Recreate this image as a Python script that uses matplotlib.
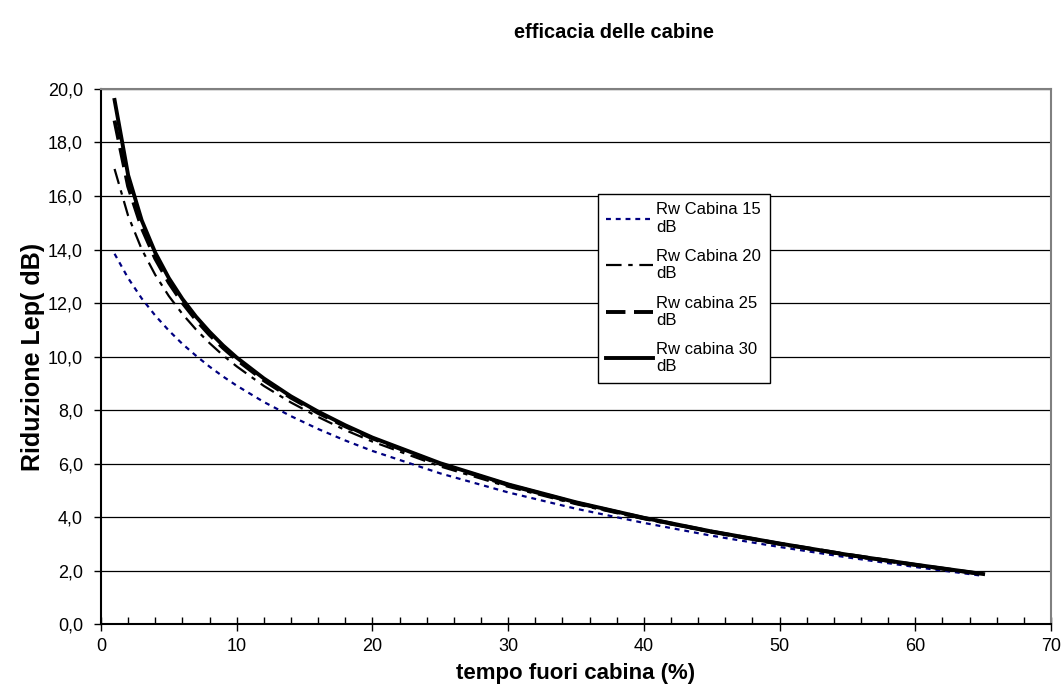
import matplotlib
matplotlib.use("Agg")
import matplotlib.pyplot as plt
from matplotlib.ticker import MultipleLocator, FuncFormatter

plt.rcParams['font.family'] = ['Liberation Sans', 'DejaVu Sans']

tempo = [1, 2, 3, 4, 5, 6, 7, 8, 9, 10, 12, 14, 16, 18, 20, 25, 30, 35, 40, 45, 50, 55, 60, 65]
rw15 = [13.84, 12.93, 12.17, 11.53, 10.97, 10.47, 10.03, 9.62, 9.25, 8.91, 8.30, 7.77, 7.29, 6.86,
        6.47, 5.63, 4.92, 4.31, 3.78, 3.30, 2.88, 2.49, 2.13, 1.80]
rw20 = [17.01, 15.26, 14.01, 13.05, 12.26, 11.59, 11.01, 10.50, 10.04, 9.63, 8.90, 8.28, 7.74, 7.25,
        6.82, 5.89, 5.13, 4.48, 3.92, 3.42, 2.97, 2.56, 2.19, 1.85]
rw25 = [18.82, 16.36, 14.81, 13.66, 12.76, 12.01, 11.37, 10.81, 10.32, 9.88, 9.11, 8.46, 7.89, 7.39,
        6.94, 5.98, 5.20, 4.53, 3.96, 3.45, 3.00, 2.59, 2.21, 1.86]
rw30 = [19.59, 16.78, 15.09, 13.88, 12.93, 12.15, 11.49, 10.92, 10.41, 9.96, 9.18, 8.51, 7.94, 7.43,
        6.97, 6.01, 5.22, 4.55, 3.97, 3.46, 3.01, 2.59, 2.22, 1.87]
labels = ["Rw Cabina 15\ndB", "Rw Cabina 20\ndB", "Rw cabina 25\ndB", "Rw cabina 30\ndB"]

fig = plt.figure(figsize=(10.63, 6.98), dpi=100)
ax = fig.add_axes([0.0950, 0.106, 0.8937, 0.7665])

ax.plot(tempo, rw15, color='#000080', linewidth=1.6, linestyle=(0, (2.2, 2.2)), label=labels[0])
ax.plot(tempo, rw20, color='black', linewidth=1.6, linestyle=(0, (7, 3, 2, 3)), label=labels[1])
ax.plot(tempo, rw25, color='black', linewidth=2.8, linestyle=(0, (5, 2.2)), label=labels[2])
ax.plot(tempo, rw30, color='black', linewidth=2.8, linestyle='-', label=labels[3])

ax.set_xlim(0, 70)
ax.set_ylim(0, 20)
ax.xaxis.set_major_locator(MultipleLocator(10))
ax.xaxis.set_minor_locator(MultipleLocator(2))
ax.yaxis.set_major_locator(MultipleLocator(2))
ax.yaxis.set_major_formatter(FuncFormatter(lambda v, p: f"{v:.1f}".replace('.', ',')))
ax.tick_params(axis='x', which='major', direction='inout', length=10, width=1, labelsize=13, pad=5)
ax.tick_params(axis='x', which='minor', direction='in', length=5, width=1)
ax.tick_params(axis='y', which='major', direction='out', length=5, width=1, labelsize=13, pad=8)

ax.grid(axis='y', which='major', color='black', linewidth=0.9)
ax.set_axisbelow(True)
for s in ['left', 'bottom']:
    ax.spines[s].set_color('black')
    ax.spines[s].set_linewidth(1.5)
for s in ['top', 'right']:
    ax.spines[s].set_color('#808080')
    ax.spines[s].set_linewidth(1.5)

ax.set_xlabel("tempo fuori cabina (%)", fontsize=16, fontweight='bold', labelpad=6)
ax.set_ylabel("Riduzione Lep( dB)", fontsize=18, fontweight='bold', labelpad=2)
fig.text(0.578, 0.953, "efficacia delle cabine", fontsize=14.4, fontweight='bold', ha='center', va='center')

leg = ax.legend(loc='upper left', bbox_to_anchor=(0.5626, 0.722), bbox_transform=fig.transFigure,
                fontsize=12, frameon=True, fancybox=False, edgecolor='black', framealpha=1,
                handlelength=2.8, handletextpad=0.2, labelspacing=0.85, borderpad=0.5, borderaxespad=0)
leg.get_frame().set_linewidth(1.0)

fig.savefig("out.png", dpi=100)
